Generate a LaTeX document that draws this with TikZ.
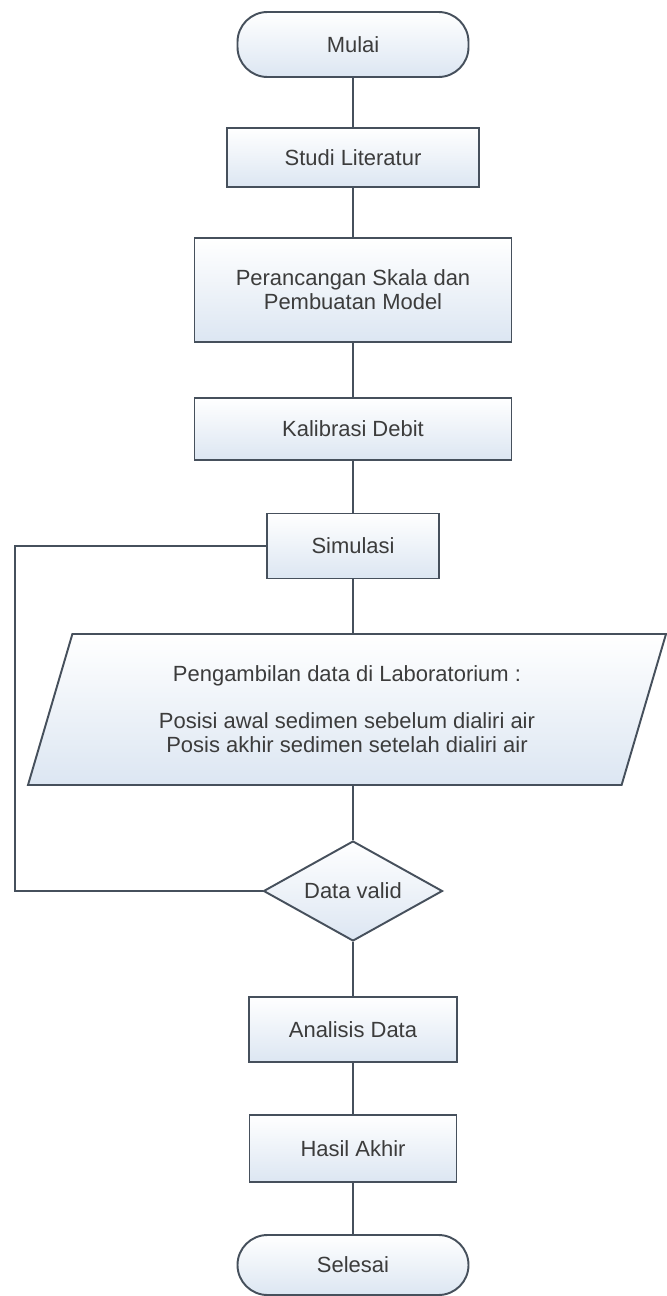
\documentclass[tikz,border=0pt]{standalone}
\usepackage{fontspec}
\setmainfont{Liberation Sans}
\usetikzlibrary{shapes.geometric}
\definecolor{garis}{RGB}{70,80,92}
\definecolor{isi}{RGB}{220,230,242}
\definecolor{teks}{RGB}{60,60,60}
\tikzset{
	kotak/.style = {draw = garis, line width = 1.1pt, top color = white, bottom color = isi, text = teks, align = center, inner sep = 0pt, font = \fontsize{12.5}{13.7}\selectfont},
	proses/.style = {kotak, rectangle},
	terminal/.style = {kotak, rectangle, rounded corners = 0.6cm},
	masukan/.style = {kotak, trapezium, trapezium left angle = 63, trapezium right angle = 117, trapezium stretches body},
	keputusan/.style = {kotak, diamond, aspect = 1.79},
	alur/.style = {draw = garis, line width = 0.9pt}
}

\begin{document}
\begin{tikzpicture}
	\useasboundingbox (0,0) rectangle (13.34,-25.92);
	\node [terminal, minimum width = 4.62cm, minimum height = 1.30cm] (mulai) at (7.06,-0.89) {Mulai};
	\node [proses, minimum width = 5.04cm, minimum height = 1.18cm] (studi) at (7.06,-3.15) {Studi Literatur};
	\node [proses, minimum width = 6.34cm, minimum height = 2.08cm] (rancang) at (7.06,-5.80) {Perancangan Skala dan\\Pembuatan Model};
	\node [proses, minimum width = 6.34cm, minimum height = 1.24cm] (kalibrasi) at (7.06,-8.58) {Kalibrasi Debit};
	\node [proses, minimum width = 3.44cm, minimum height = 1.30cm] (simulasi) at (7.06,-10.92) {Simulasi};
	\node [masukan, minimum width = 12.76cm, minimum height = 3.02cm] (data) at (6.94,-14.19) {Pengambilan data di Laboratorium :\\[13pt]Posisi awal sedimen sebelum dialiri air\\Posis akhir sedimen setelah dialiri air};
	\node [keputusan, minimum width = 3.58cm, minimum height = 2.00cm] (valid) at (7.06,-17.82) {Data valid};
	\node [proses, minimum width = 4.16cm, minimum height = 1.30cm] (analisis) at (7.06,-20.59) {Analisis Data};
	\node [proses, minimum width = 4.14cm, minimum height = 1.34cm] (hasil) at (7.06,-22.97) {Hasil Akhir};
	\node [terminal, minimum width = 4.62cm, minimum height = 1.20cm] (selesai) at (7.06,-25.30) {Selesai};
	\coordinate (balik) at (0.30,-14);

	\draw [alur] (mulai) -- (studi);
	\draw [alur] (studi) -- (rancang);
	\draw [alur] (rancang) -- (kalibrasi);
	\draw [alur] (kalibrasi) -- (simulasi);
	\draw [alur] (simulasi.south) -- (simulasi.south |- data.north);
	\draw [alur] (valid.north |- data.south) -- (valid.north);
	\draw [alur] (valid) -- (analisis);
	\draw [alur] (analisis) -- (hasil);
	\draw [alur] (hasil) -- (selesai);
	\draw [alur] (valid.west) -| (balik) |- (simulasi.west);
\end{tikzpicture}
\end{document}
